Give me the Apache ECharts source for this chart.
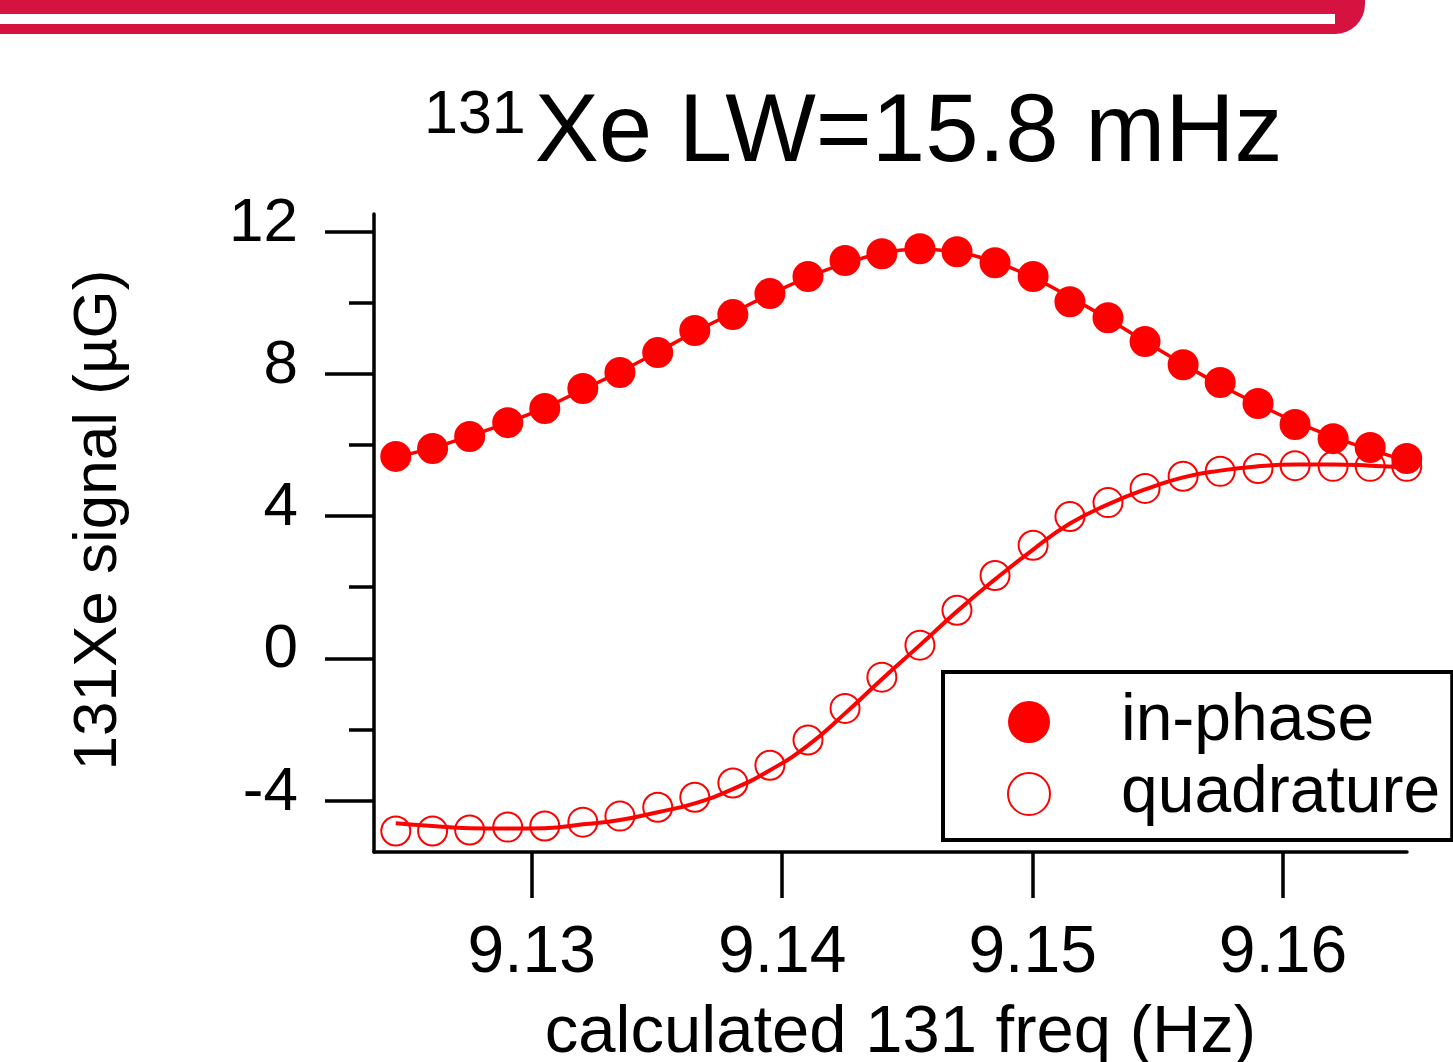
<!DOCTYPE html>
<html>
<head>
<meta charset="utf-8">
<title>131Xe LW</title>
<script src="https://cdn.jsdelivr.net/npm/echarts@6/dist/echarts.min.js"></script>
<style>
  html, body { margin: 0; padding: 0; background: #fff; }
  #chart { width: 1453px; height: 1062px; }
</style>
</head>
<body>
<div id="chart"></div>
<script>
// frequency (Hz) of each measured point
var freq = [9.12457, 9.12604, 9.12752, 9.12904, 9.13052, 9.13204, 9.13352, 9.13503,
  9.13651, 9.13803, 9.13951, 9.14103, 9.14251, 9.14398, 9.1455, 9.14698, 9.1485,
  9.15002, 9.15149, 9.15301, 9.15449, 9.15601, 9.15749, 9.159, 9.16048, 9.162,
  9.16348, 9.16494];

// measured signal (uG)
var inPhase = [5.68, 5.90, 6.24, 6.63, 7.03, 7.59, 8.04, 8.60, 9.22, 9.67, 10.26, 10.74,
  11.19, 11.38, 11.52, 11.44, 11.13, 10.74, 10.03, 9.58, 8.91, 8.26, 7.76, 7.17,
  6.58, 6.18, 5.93, 5.62];
var quadrature = [-4.86, -4.86, -4.83, -4.75, -4.72, -4.61, -4.44, -4.19, -3.91, -3.51,
  -3.01, -2.30, -1.41, -0.53, 0.37, 1.35, 2.33, 3.18, 3.99, 4.38, 4.78, 5.12, 5.26,
  5.34, 5.42, 5.40, 5.40, 5.40];

// fitted curves read at the same frequencies
var inPhaseFit = [5.66, 5.92, 6.25, 6.63, 7.05, 7.56, 8.06, 8.62, 9.18, 9.72, 10.24, 10.72,
  11.11, 11.39, 11.50, 11.42, 11.14, 10.71, 10.16, 9.55, 8.91, 8.28, 7.69, 7.15,
  6.66, 6.23, 5.87, 5.56];
var quadratureFit = [-4.64, -4.72, -4.78, -4.79, -4.78, -4.67, -4.55, -4.33, -4.08, -3.68,
  -3.15, -2.45, -1.55, -0.59, 0.37, 1.32, 2.22, 3.06, 3.79, 4.33, 4.75, 5.09, 5.28,
  5.40, 5.45, 5.45, 5.42, 5.37];

// tick labels
var xTicks = [9.13, 9.14, 9.15, 9.16];
var yTicks = [-4, 0, 4, 8, 12];
var yMinorTicks = [-2, 2, 6, 10];

var red = '#ff0000';
var font = "'Liberation Sans', Arial, sans-serif";

function pairs (xs, ys) {
  return xs.map(function (x, i) { return [x, ys[i]]; });
}

var chart = echarts.init(document.getElementById('chart'));

var option = {
  animation: false,
  backgroundColor: '#fff',
  textStyle: { fontFamily: font, color: '#000' },
  // header band of the slide
  graphic: [
    {
      type: 'rect',
      shape: { x: 0, y: 0, width: 1365, height: 34, r: [0, 0, 30, 0] },
      style: { fill: '#d61240' }
    },
    {
      type: 'rect',
      shape: { x: 0, y: 14, width: 1335, height: 10 },
      style: { fill: '#fff' }
    }
  ],
  title: {
    text: '{s|131}{m|Xe LW=15.8 mHz}',
    left: 424,
    top: 83,
    padding: 0,
    textStyle: {
      fontWeight: 'normal',
      rich: {
        s: { fontFamily: font, fontSize: 61, fontWeight: 'normal', color: '#000', verticalAlign: 'top', lineHeight: 61, padding: [3, 9, 0, 0] },
        m: { fontFamily: font, fontSize: 96, fontWeight: 'normal', color: '#000', verticalAlign: 'bottom', lineHeight: 100 }
      }
    }
  },
  legend: {
    orient: 'vertical',
    left: 943,
    top: 672,
    data: ['in-phase', 'quadrature'],
    icon: 'circle',
    itemWidth: 42,
    itemHeight: 42,
    itemGap: 6,
    padding: [17, 12, 13, 64],
    borderColor: '#000',
    borderWidth: 4,
    borderRadius: 0,
    textStyle: {
      fontFamily: font,
      fontSize: 66,
      lineHeight: 66,
      color: '#000',
      padding: [0, 0, 0, 66]
    }
  },
  grid: {
    left: 374,
    right: 46,
    top: 214,
    bottom: 210,
    outerBoundsMode: 'none',
    containLabel: false
  },
  xAxis: {
    type: 'value',
    min: 9.1237,
    max: 9.16495,
    name: 'calculated 131 freq (Hz)',
    nameLocation: 'middle',
    nameGap: 148,
    nameTextStyle: { fontFamily: font, fontSize: 67, color: '#000', padding: [0, 0, 0, 20] },
    axisLine: { show: true, onZero: false, lineStyle: { color: '#000', width: 3.5 } },
    axisTick: { show: true, customValues: xTicks, length: 46, lineStyle: { color: '#000', width: 3.5 } },
    axisLabel: {
      customValues: xTicks,
      fontFamily: font,
      fontSize: 66,
      color: '#000',
      margin: 69,
      formatter: function (v) { return v.toFixed(2); }
    },
    splitLine: { show: false }
  },
  yAxis: [
    {
      type: 'value',
      position: 'left',
      min: -5.45,
      max: 12.5,
      name: '131Xe signal (\u00b5G)',
      nameLocation: 'middle',
      nameGap: 244,
      nameMoveOverlap: false,
      nameTextStyle: { fontFamily: font, fontSize: 62, color: '#000', padding: [0, 0, 0, 26] },
      axisLine: { show: true, onZero: false, lineStyle: { color: '#000', width: 3.5 } },
      axisTick: { show: true, customValues: yTicks, length: 49, lineStyle: { color: '#000', width: 3.5 } },
      axisLabel: {
        customValues: yTicks,
        fontFamily: font,
        fontSize: 62,
        color: '#000',
        margin: 76,
        // labels sit a little above their ticks in the original
        verticalAlign: 'bottom',
        lineHeight: 16
      },
      splitLine: { show: false }
    },
    {
      // short ticks between the labelled ones
      type: 'value',
      position: 'left',
      min: -5.45,
      max: 12.5,
      axisLine: { show: false },
      axisTick: { show: true, customValues: yMinorTicks, length: 25, lineStyle: { color: '#000', width: 3.5 } },
      axisLabel: { show: false },
      splitLine: { show: false }
    }
  ],
  series: [
    {
      name: 'quadrature fit',
      type: 'line',
      data: pairs(freq, quadratureFit),
      smooth: true,
      showSymbol: false,
      lineStyle: { color: red, width: 4 },
      z: 1
    },
    {
      name: 'in-phase fit',
      type: 'line',
      data: pairs(freq, inPhaseFit),
      smooth: true,
      showSymbol: false,
      lineStyle: { color: red, width: 3.5 },
      z: 1
    },
    {
      name: 'quadrature',
      type: 'scatter',
      data: pairs(freq, quadrature),
      symbol: 'circle',
      symbolSize: 29,
      clip: false,
      itemStyle: { color: 'transparent', borderColor: red, borderWidth: 2, opacity: 1 },
      z: 2
    },
    {
      name: 'in-phase',
      type: 'scatter',
      data: pairs(freq, inPhase),
      symbol: 'circle',
      symbolSize: 31,
      clip: false,
      itemStyle: { color: red, opacity: 1 },
      z: 3
    }
  ]
};

chart.setOption(option);
</script>
</body>
</html>
